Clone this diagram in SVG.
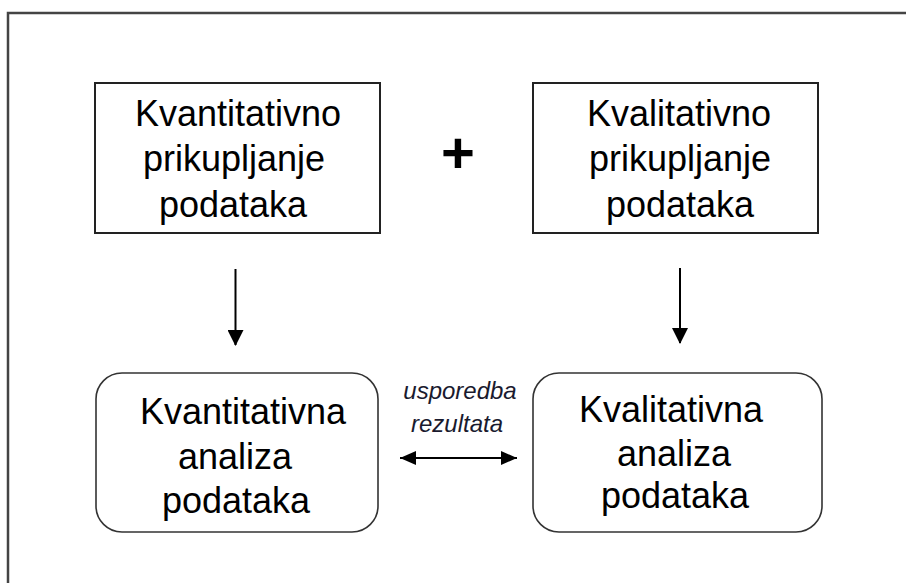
<svg xmlns="http://www.w3.org/2000/svg" width="906" height="583" viewBox="0 0 906 583">
<style>
.t{font-family:"Liberation Sans",Arial,sans-serif;font-size:36px;fill:#000;text-anchor:middle}
.i{font-family:"Liberation Sans",Arial,sans-serif;font-size:24px;font-style:italic;fill:#1a1a2e;text-anchor:middle}
.box{fill:#fff;stroke:#222;stroke-width:2}
.rbox{fill:#fff;stroke:#333;stroke-width:1.6}
.ln{stroke:#000;stroke-width:2;fill:none}
</style>
<defs>
<marker id="ah" viewBox="0 0 16 16" refX="15" refY="8" markerWidth="16" markerHeight="16" markerUnits="userSpaceOnUse" orient="auto-start-reverse">
<path d="M0,0 L16,8 L0,16 Z" fill="#000"/>
</marker>
<marker id="ah2" viewBox="0 0 16 14" refX="16" refY="7" markerWidth="16" markerHeight="14" markerUnits="userSpaceOnUse" orient="auto-start-reverse">
<path d="M0,0 L16,7 L0,14 Z" fill="#000"/>
</marker>
</defs>
<rect x="0" y="0" width="906" height="583" fill="#fff"/>
<rect x="8" y="13" width="1000" height="1000" fill="none" stroke="#444" stroke-width="2.5"/>
<g id="kvant-prikupljanje">
<rect class="box" x="95" y="83" width="285" height="150"/>
<text class="t" x="238" y="126">Kvantitativno</text>
<text class="t" x="234" y="171">prikupljanje</text>
<text class="t" x="233" y="217">podataka</text>
</g>
<g id="plus">
<text x="458" y="173" font-family="Liberation Sans,Arial,sans-serif" font-size="58" font-weight="bold" text-anchor="middle">+</text>
</g>
<g id="kval-prikupljanje">
<rect class="box" x="533" y="83" width="285" height="150"/>
<text class="t" x="679" y="126">Kvalitativno</text>
<text class="t" x="680" y="171">prikupljanje</text>
<text class="t" x="680" y="217">podataka</text>
</g>
<g id="kvant-analiza">
<rect class="rbox" x="96" y="373" width="282" height="159" rx="26" ry="26"/>
<text class="t" x="243" y="424">Kvantitativna</text>
<text class="t" x="235" y="469">analiza</text>
<text class="t" x="236" y="513">podataka</text>
</g>
<g id="kval-analiza">
<rect class="rbox" x="533" y="373" width="289" height="159" rx="26" ry="26"/>
<text class="t" x="671" y="422">Kvalitativna</text>
<text class="t" x="674" y="466">analiza</text>
<text class="t" x="675" y="508">podataka</text>
</g>
<g id="connectors">
<line class="ln" x1="235.5" y1="269" x2="235.5" y2="345" marker-end="url(#ah)"/>
<line class="ln" x1="680" y1="268" x2="680" y2="343" marker-end="url(#ah)"/>
<line class="ln" x1="400" y1="458" x2="517" y2="458" stroke-width="2.4" marker-start="url(#ah2)" marker-end="url(#ah2)"/>
<text class="i" x="460" y="399">usporedba</text>
<text class="i" x="457" y="432">rezultata</text>
</g>
</svg>
